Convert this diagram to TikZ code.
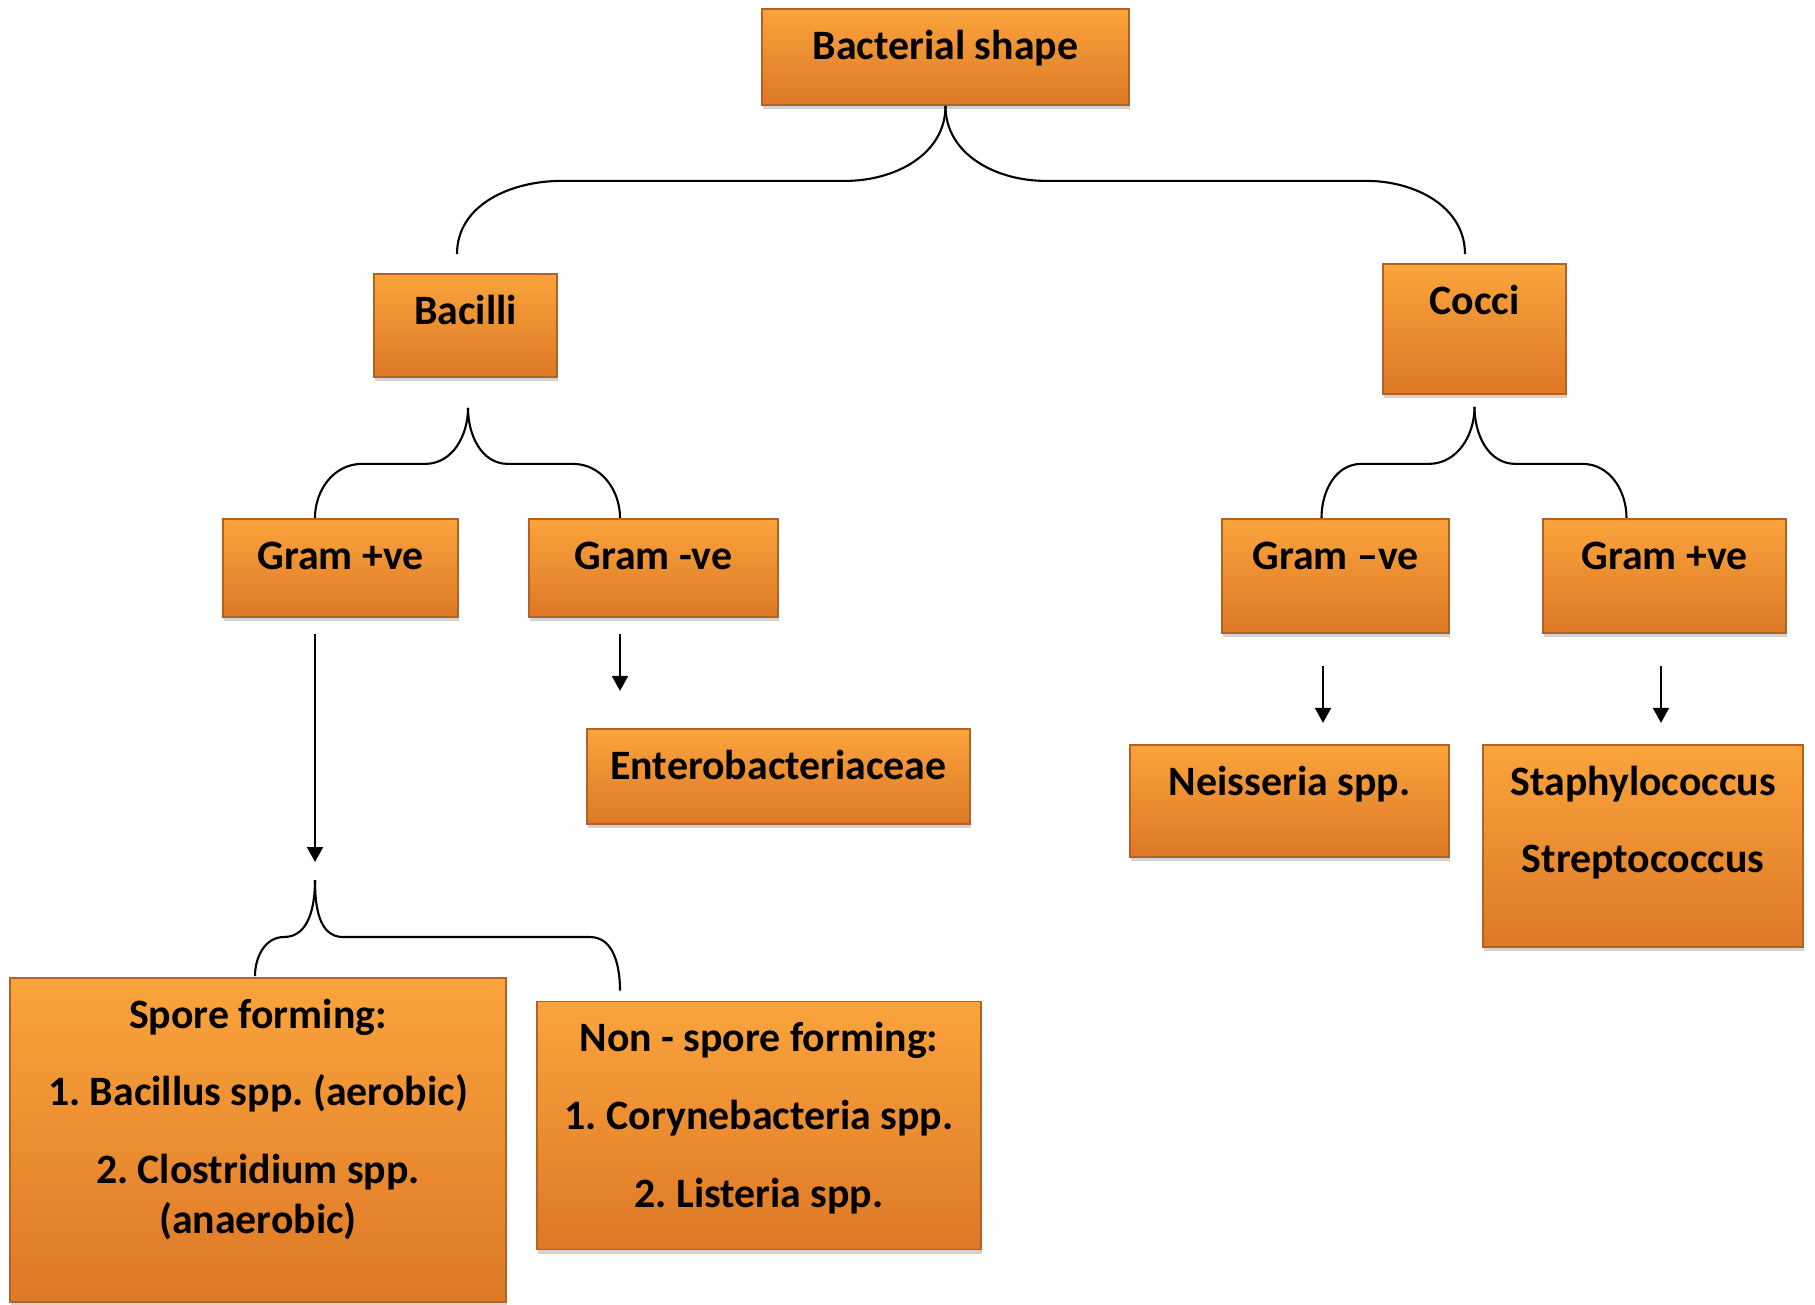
\documentclass[tikz,border=0pt]{standalone}
\usepackage{fontspec}
\setmainfont{Carlito}
\usetikzlibrary{arrows.meta,shadows,calc}

\definecolor{boxtop}{RGB}{250,164,60}
\definecolor{boxbottom}{RGB}{221,120,39}
\definecolor{boxedge}{RGB}{180,98,34}

% box text: width, height, lines (top aligned)
\newcommand{\boxtxt}[3]{\parbox[c][#2][t]{#1}{\frenchspacing\centering\rule{0pt}{0.5cm}#3}}

\tikzset{bactbox/.style={rectangle, draw=boxedge, line width=0.5pt, top color=boxtop, bottom color=boxbottom, inner sep=0pt, font=\fontsize{11.9}{14.2}\selectfont\bfseries, drop shadow={shadow xshift=0.01cm, shadow yshift=-0.04cm, opacity=0.35}}}
\tikzset{link/.style={line width=0.6pt}}
\tikzset{arr/.style={line width=0.6pt, -{Triangle[length=0.15cm,width=0.16cm]}}}

\begin{document}
\begin{tikzpicture}
	\useasboundingbox (0,0) rectangle (18.15,-13.04);
	% top level
	\node[bactbox] (shape) at (9.455,-0.57) {\boxtxt{3.67cm}{0.96cm}{Bacterial shape}};
	\node[bactbox] (bacilli) at (4.655,-3.255) {\boxtxt{1.83cm}{1.03cm}{Bacilli}};
	\node[bactbox] (cocci) at (14.745,-3.29) {\boxtxt{1.83cm}{1.30cm}{Cocci}};
	% gram stain
	\node[bactbox] (gpos1) at (3.405,-5.68) {\boxtxt{2.35cm}{0.98cm}{Gram +ve}};
	\node[bactbox] (gneg1) at (6.535,-5.68) {\boxtxt{2.49cm}{0.98cm}{Gram -ve}};
	\node[bactbox] (gneg2) at (13.355,-5.76) {\boxtxt{2.27cm}{1.14cm}{Gram –ve}};
	\node[bactbox] (gpos2) at (16.645,-5.76) {\boxtxt{2.43cm}{1.14cm}{Gram +ve}};
	% examples
	\node[bactbox] (entero) at (7.785,-7.765) {\boxtxt{3.83cm}{0.95cm}{Enterobacteriaceae}};
	\node[bactbox] (neis) at (12.895,-8.01) {\boxtxt{3.19cm}{1.12cm}{Neisseria spp.}};
	\node[bactbox] (staph) at (16.43,-8.46) {\boxtxt{3.20cm}{2.02cm}{Staphylococcus\\[0.28cm] Streptococcus}};
	\node[bactbox] (spore) at (2.58,-11.40) {\boxtxt{4.96cm}{3.24cm}{Spore forming:\\[0.28cm] 1. Bacillus spp. (aerobic)\\[0.28cm] 2. Clostridium spp.\\ (anaerobic)}};
	\node[bactbox] (nonspore) at (7.59,-11.255) {\boxtxt{4.44cm}{2.48cm}{Non - spore forming:\\[0.28cm] 1. Corynebacteria spp.\\[0.28cm] 2. Listeria spp.}};

	% brace ends
	\coordinate (bacilliin) at ($(bacilli.north)+(-0.085,0.19)$);
	\coordinate (cocciin) at ($(cocci.north)+(-0.095,0.09)$);
	\coordinate (bacillitip) at ($(bacilli.south)+(0.025,-0.30)$);
	\coordinate (coccitip) at ($(cocci.south)+(0,-0.12)$);
	\coordinate (sporetip) at (3.15,-8.80);
	\coordinate (nonsporein) at ($(nonspore.north)+(-1.39,0.10)$);

	% top brace
	\draw[link] (shape.south) to[out=-90,in=0] ++(-1,-0.75) -- ++(-2.84,0) to[out=180,in=90] (bacilliin);
	\draw[link] (shape.south) to[out=-90,in=180] ++(1,-0.75) -- ++(3.21,0) to[out=0,in=90] (cocciin);
	% bacilli brace
	\draw[link] (bacillitip) to[out=-90,in=0] ++(-0.43,-0.56) -- ++(-0.63,0) to[out=180,in=90] ++(-0.47,-0.54);
	\draw[link] (bacillitip) to[out=-90,in=180] ++(0.40,-0.56) -- ++(0.65,0) to[out=0,in=90] ++(0.47,-0.54);
	% cocci brace
	\draw[link] (coccitip) to[out=-90,in=0] ++(-0.46,-0.57) -- ++(-0.67,0) to[out=180,in=90] ++(-0.40,-0.54);
	\draw[link] (coccitip) to[out=-90,in=180] ++(0.41,-0.57) -- ++(0.67,0) to[out=0,in=90] ++(0.44,-0.54);

	% arrows
	\draw[arr] ($(gpos1.south)+(-0.255,-0.16)$) -- ($(sporetip)+(0,0.18)$);
	\draw[arr] ($(gneg1.south)+(-0.335,-0.16)$) -- ++(0,-0.57);
	\draw[arr] ($(gneg2.south)+(-0.125,-0.32)$) -- ++(0,-0.57);
	\draw[arr] ($(gpos2.south)+(-0.035,-0.32)$) -- ++(0,-0.57);

	% spore brace
	\draw[link] (sporetip) to[out=-90,in=0] ++(-0.31,-0.57) to[out=180,in=90] ++(-0.29,-0.39);
	\draw[link] (sporetip) to[out=-90,in=180] ++(0.28,-0.57) -- ++(2.47,0) to[out=0,in=90] (nonsporein);
\end{tikzpicture}
\end{document}
